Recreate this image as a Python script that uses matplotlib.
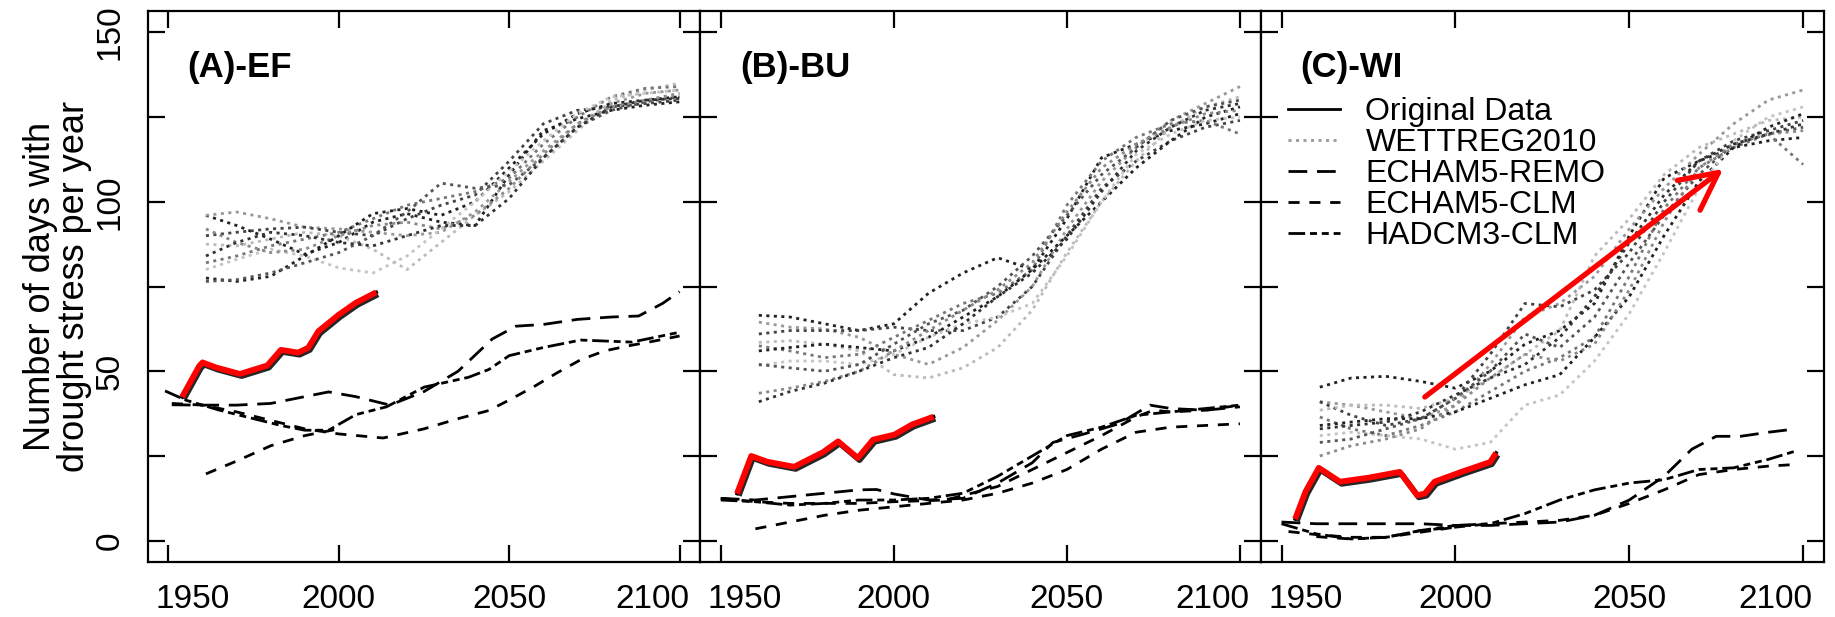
import matplotlib
matplotlib.use("Agg")
import matplotlib.pyplot as plt
import matplotlib.patheffects as pe
from matplotlib.lines import Line2D

plt.rcParams['font.family'] = ['Liberation Sans', 'DejaVu Sans']
plt.rcParams['lines.scale_dashes'] = False

# ---------------- data ----------------
panel_titles = ["(A)-EF", "(B)-BU", "(C)-WI"]
legend_labels = ["Original Data", "WETTREG2010", "ECHAM5-REMO", "ECHAM5-CLM", "HADCM3-CLM"]
x_ticks = [1950, 2000, 2050, 2100]
x_ticklabels = ["1950", "2000", "2050", "2100"]
y_ticks = [0, 25, 50, 75, 100, 125, 150]
y_ticklabels = ["0", "", "50", "", "100", "", "150"]

# observed (original data)
obs_yr_a = [1954, 1959, 1960, 1964, 1971, 1979, 1983, 1985, 1988, 1991, 1994, 2000, 2005, 2011]
obs_a = [42.4, 51.5, 52.6, 51.1, 49.2, 51.7, 56.3, 56, 55.5, 56.9, 61.8, 66.7, 70.2, 73.3]
obs_yr_b = [1954.7, 1958.8, 1963.4, 1971.2, 1979.5, 1983.9, 1989.6, 1994, 2000.2, 2005.3, 2011.5]
obs_b = [13.9, 25.0, 23.3, 21.8, 26.1, 29.3, 24.4, 29.8, 31.3, 34.3, 36.6]
obs_yr_c = [1953.9, 1956.9, 1960.7, 1966.8, 1975.1, 1984, 1989, 1991.2, 1994, 2001.7, 2010, 2011.7]
obs_c = [6.4, 14.5, 21.5, 17.4, 18.6, 20.3, 13.4, 13.9, 17.4, 20.3, 23.2, 25.9]

# WETTREG2010 realisations
wett_yr = [1961, 1970, 1980, 1990, 2000, 2010, 2020, 2030, 2040, 2050, 2060, 2070, 2080, 2090, 2100]
wett_a = [
    [96, 93, 89, 84.5, 88, 94, 96.5, 94, 93, 108, 121, 124.5, 127, 128.5, 129.5],
    [96, 97, 95, 92.5, 92, 91, 90, 91, 97, 106, 115, 123, 129, 132, 133],
    [90, 91, 92, 92.5, 91, 90, 95, 99, 102, 112, 123, 127, 128, 129, 130],
    [87.5, 87, 89, 91, 90, 86, 80, 88, 96, 103, 112, 121, 130, 133, 135],
    [82, 84, 87, 89, 91, 95, 99, 101, 103, 107, 117, 125, 131, 133.5, 134],
    [77.5, 76.5, 78, 84, 90, 96.5, 98, 96, 100, 110, 120, 126, 129, 130, 131],
    [80, 83, 86, 84, 80.5, 79, 84, 92, 100, 109, 118, 126, 131, 132, 133],
    [76.5, 77, 79, 82, 85, 90, 97, 105.5, 104, 105, 113, 122, 127, 129.5, 131],
    [92, 88, 85, 86, 90, 93, 94, 92, 96, 104, 114, 123, 128, 130, 132],
    [84, 88, 91, 90, 88, 87, 90, 93, 93, 101, 113, 122, 128, 130, 130.5],
]
wett_b = [
    [66.5, 66, 64, 62, 64, 73, 79, 83.5, 80, 95, 113, 117, 121, 123, 126],
    [64.5, 63, 62.5, 60, 55, 52, 57, 65, 75, 92, 106, 116, 124, 129, 134],
    [61, 62, 62, 62, 63, 62, 62, 66, 75, 90, 104, 112, 118, 122, 124],
    [58.5, 59, 58, 56, 49, 48, 51, 57, 68, 85, 100, 112, 122, 128, 131],
    [57.5, 56, 54, 55, 60, 65, 70, 73, 80, 99, 112, 119, 123, 124, 120],
    [56, 57, 58, 57, 56, 60, 66, 72, 80, 90, 100, 110, 118, 125, 128],
    [51.7, 53, 53, 52, 55, 60, 64, 66, 70, 84, 100, 114, 120, 124, 125],
    [52, 51, 50, 52, 58, 64, 68, 75, 84, 96, 108, 116, 124, 128, 130],
    [43.5, 45, 47, 50, 56, 62, 68, 74, 82, 97, 110, 117, 122, 126, 127],
    [41, 44, 46.5, 50, 54, 57, 64, 72, 79, 89, 103, 115, 122, 127, 129],
]
wett_c = [
    [45.3, 48, 48.5, 47, 45, 50, 58, 62, 70, 90, 107, 112, 116, 118, 119],
    [41, 40, 38, 36, 40, 52, 66, 70, 78, 92, 104, 114, 123, 130, 133],
    [41, 37, 34, 36, 42, 55, 70, 69, 74, 85, 100, 112, 118, 121, 124],
    [38.5, 40, 40, 39, 42, 48, 55, 62, 84, 95, 108, 116, 120, 124, 125],
    [36.5, 33, 31, 34, 38, 44, 50, 54, 60, 78, 98, 110, 116, 120, 111],
    [34, 35, 36, 36, 38, 42, 46, 49, 60, 72, 90, 106, 116, 122, 126],
    [31, 32, 31, 30, 27, 29, 40, 43, 53, 67, 85, 104, 118, 125, 128],
    [29, 30, 33, 36, 42, 50, 61, 57, 66, 82, 96, 108, 117, 120, 122],
    [25, 28, 30, 33, 40, 48, 55, 53, 58, 74, 94, 110, 117, 120, 121],
    [33, 34, 35, 38, 43, 48, 52, 60, 72, 88, 102, 112, 117, 120, 123],
]

# dynamical models
remo_yr_a = [1951, 1960, 1970, 1980, 1990, 1997, 2005, 2015, 2025, 2035, 2045, 2052, 2060, 2070, 2080, 2088, 2095, 2100]
remo_a = [40.1, 40, 40, 40.5, 42.5, 43.9, 42.5, 40, 44, 50, 59.5, 63.3, 63.8, 65.3, 66, 66.3, 70, 73.5]
clm_yr_a = [1951, 1960, 1970, 1980, 1990, 2000, 2013, 2025, 2035, 2044, 2050, 2057, 2064, 2071, 2078, 2085, 2092, 2100]
clm_a = [40.5, 40, 38, 35.5, 33, 31.5, 30.3, 33, 36, 38.4, 41.5, 45.3, 49.5, 53.4, 56, 57.5, 58.8, 60.4]
clm2_yr_a = [1961, 1970, 1980, 1990, 2000]
clm2_a = [19.7, 23.5, 28, 31, 33]
had_yr_a = [1949, 1955, 1965, 1975, 1983, 1990, 1997, 2005, 2014, 2025, 2038, 2044, 2050, 2060, 2071, 2086, 2100]
had_a = [44.2, 41.5, 38.5, 36, 34, 32.6, 32.6, 37.2, 39.5, 45.3, 48.2, 50.5, 54.6, 57, 59.2, 58.6, 61.5]

remo_yr_b = [1950, 1960, 1970, 1980, 1990, 1995, 2000, 2010, 2020, 2030, 2040, 2046, 2055, 2065, 2074, 2080, 2090, 2100]
remo_b = [12.5, 12, 13, 14, 15, 15.1, 13.8, 12, 12.5, 17, 23, 29, 31.5, 34.5, 40, 39, 38.5, 39.5]
clm_yr_b = [1950, 1960, 1970, 1980, 1990, 2000, 2015, 2030, 2040, 2050, 2060, 2070, 2075, 2080, 2090, 2100]
clm_b = [12.5, 11.5, 11, 11, 11, 11.5, 12, 16, 21, 26, 31, 36.5, 38.5, 38, 38.5, 40]
clm2_yr_b = [1960, 1970, 1980, 1990, 2000, 2010, 2020, 2030, 2040, 2050, 2060, 2070, 2080, 2090, 2100]
clm2_b = [3.5, 5.5, 7.5, 9, 10, 11, 12, 14, 17, 21, 27, 32, 33.5, 34, 34.5]
had_yr_b = [1950, 1960, 1970, 1980, 1990, 2000, 2010, 2020, 2030, 2040, 2050, 2060, 2070, 2080, 2090, 2100]
had_b = [12, 11.5, 10.5, 11, 12, 12, 12.5, 14, 19, 25, 31, 33.5, 37, 38, 39, 40]

remo_yr_c = [1950, 1960, 1970, 1980, 1990, 2000, 2010, 2020, 2030, 2040, 2050, 2060, 2068, 2075, 2082, 2090, 2098]
remo_c = [5.5, 5, 5, 5, 5, 4.5, 4.5, 5, 5.5, 7.5, 12, 19, 27, 30.8, 30.8, 32, 33]
clm_yr_c = [1952, 1960, 1970, 1980, 1990, 2000, 2010, 2020, 2030, 2040, 2050, 2060, 2070, 2080, 2090, 2098]
clm_c = [2.7, 1.8, 1, 1, 3, 4, 5, 5.5, 6, 7.5, 11, 15, 19.5, 21, 22, 22.5]
clm2_yr_c = [1960, 1970, 1980, 1990, 2000]
clm2_c = [1.2, 0.5, 1, 2.5, 4]
had_yr_c = [1950, 1960, 1970, 1980, 1990, 2000, 2010, 2020, 2030, 2040, 2050, 2060, 2070, 2080, 2090, 2098]
had_c = [5, 2, 0.5, 1, 3, 4.5, 5, 8, 12, 15, 17, 18, 21, 21.5, 24, 26.5]

# trend arrow in panel C (start, end)
arrow_from = (1991.2, 42.4)
arrow_to = (2077, 109.7)

# ---------------- styles ----------------
wett_shades = ["#222222", "#999999", "#444444", "#bbbbbb", "#777777",
               "#222222", "#c4c4c4", "#555555", "#8a8a8a", "#333333"]
dot = (0, (2.2, 3.2))
remo_ls = (0, (13.5, 7))
clm_ls = (0, (8, 7))
had_ls = (0, (12, 3.5, 5, 3.5, 5, 3.5))

# the outer tick labels sit a little inside the panel
label_shift = [7, 0, 0, -8]
x_labelpos = [t + s for t, s in zip(x_ticks, label_shift)]

fig = plt.figure(figsize=(18.35, 6.17), dpi=100)
rects = [[0.08065, 0.08963, 0.30082, 0.89254],
         [0.38147, 0.08963, 0.30556, 0.89254],
         [0.68703, 0.08963, 0.30698, 0.89254]]

panels = [
    (obs_yr_a, obs_a, wett_a, [(remo_yr_a, remo_a, remo_ls), (clm_yr_a, clm_a, clm_ls),
                               (clm2_yr_a, clm2_a, clm_ls), (had_yr_a, had_a, had_ls)]),
    (obs_yr_b, obs_b, wett_b, [(remo_yr_b, remo_b, remo_ls), (clm_yr_b, clm_b, clm_ls),
                               (clm2_yr_b, clm2_b, clm_ls), (had_yr_b, had_b, had_ls)]),
    (obs_yr_c, obs_c, wett_c, [(remo_yr_c, remo_c, remo_ls), (clm_yr_c, clm_c, clm_ls),
                               (clm2_yr_c, clm2_c, clm_ls), (had_yr_c, had_c, had_ls)]),
]

axes = []
for i, (rect, (oyr, oval, wett, dyn)) in enumerate(zip(rects, panels)):
    ax = fig.add_axes(rect)
    axes.append(ax)
    for series, shade in zip(wett, wett_shades):
        ax.plot(wett_yr, series, color=shade, lw=2.0, ls=dot)
    for yr, vals, ls in dyn:
        ax.plot(yr, vals, color="black", lw=2.0, ls=ls)
    ax.plot(oyr, oval, color="black", lw=2.5)
    ax.plot(oyr, oval, color="red", lw=4.2, solid_capstyle="butt",
            path_effects=[pe.SimpleLineShadow(offset=(1.2, -1.5), shadow_color="black", alpha=0.85, rho=1),
                          pe.Normal()])

    ax.set_xlim(1944, 2106)
    ax.set_ylim(-6.2, 156.3)
    ax.xaxis.remove_overlapping_locs = False
    ax.set_xticks(x_ticks)
    ax.set_xticklabels([])
    ax.set_xticks(x_labelpos, minor=True)
    ax.set_xticklabels(x_ticklabels, minor=True)
    ax.set_yticks(y_ticks)
    ax.tick_params(direction="in", length=12, width=1.6, top=True, right=True,
                   labelsize=24, pad=16)
    ax.tick_params(axis="x", which="minor", length=0, top=False, labelsize=24, pad=16)
    if i == 0:
        ax.set_yticklabels(y_ticklabels, rotation=90, va="center")
        ax.set_ylabel("Number of days with\ndrought stress per year", fontsize=26,
                      linespacing=0.95, labelpad=2)
    else:
        ax.set_yticklabels([])
    for s in ax.spines.values():
        s.set_linewidth(1.6)
    ax.text(1955.5, 139.5, panel_titles[i], fontsize=25, fontweight="bold", va="center", ha="left")

# legend in panel C
handles = [Line2D([], [], color="black", lw=2.0),
           Line2D([], [], color="#999999", lw=2.0, ls=dot),
           Line2D([], [], color="black", lw=2.0, ls=remo_ls),
           Line2D([], [], color="black", lw=2.0, ls=clm_ls),
           Line2D([], [], color="black", lw=2.0, ls=had_ls)]
axes[2].legend(handles, legend_labels, loc="upper left", bbox_to_anchor=(0.048, 0.844),
               frameon=False, fontsize=23, handlelength=1.65, handletextpad=0.78,
               labelspacing=0.035, borderpad=0, borderaxespad=0)

axes[2].annotate("", xy=arrow_to, xytext=arrow_from,
                 arrowprops=dict(arrowstyle="->,head_length=0.9,head_width=0.45",
                                 color="red", lw=3.8, mutation_scale=30,
                                 shrinkA=0, shrinkB=0))

fig.savefig("out.png", dpi=100)
